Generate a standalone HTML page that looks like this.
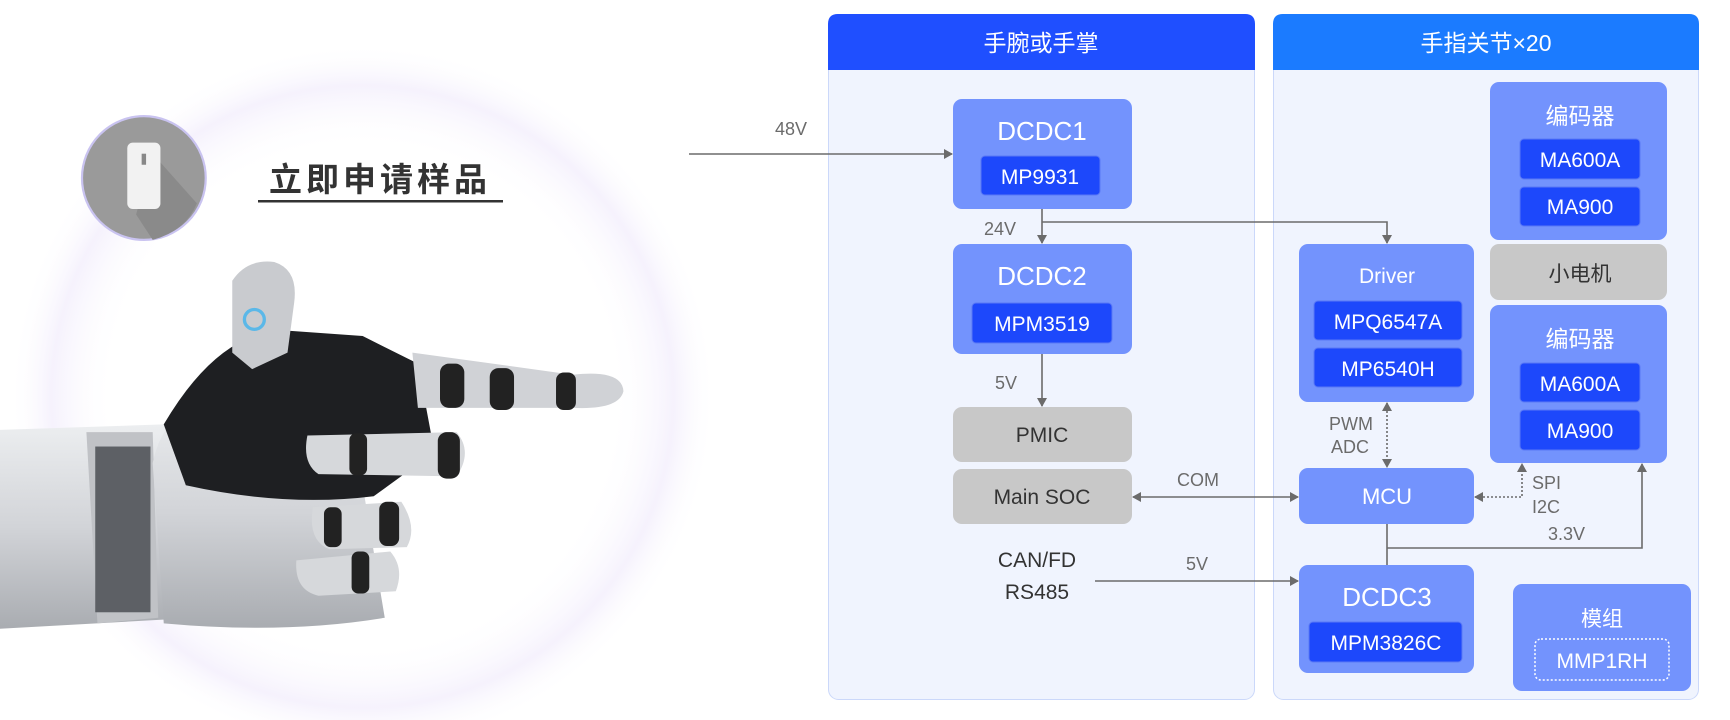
<!DOCTYPE html>
<html><head><meta charset="utf-8"><style>
html,body{margin:0;padding:0;background:#fff;}
svg{display:block;}
text{font-family:"Liberation Sans","Noto Sans CJK SC",sans-serif;}
</style></head><body>
<svg width="1730" height="720" viewBox="0 0 1730 720" xmlns="http://www.w3.org/2000/svg">
<defs>
<radialGradient id="glow" cx="0.5" cy="0.5" r="0.5">
<stop offset="0.7" stop-color="#ffffff" stop-opacity="0"/>
<stop offset="0.88" stop-color="#efe9fb" stop-opacity="0.6"/>
<stop offset="1" stop-color="#ffffff" stop-opacity="0"/>
</radialGradient>
<linearGradient id="silver" x1="0" y1="0" x2="0" y2="1">
<stop offset="0" stop-color="#eceef0"/><stop offset="0.5" stop-color="#d2d4d8"/><stop offset="1" stop-color="#a9acb1"/>
</linearGradient>
<marker id="ar" markerWidth="10" markerHeight="10" refX="8" refY="5" orient="auto" markerUnits="userSpaceOnUse">
<path d="M0,0 L9,5 L0,10 z" fill="#6b6b6b"/></marker>
<marker id="al" markerWidth="10" markerHeight="10" refX="2" refY="5" orient="auto" markerUnits="userSpaceOnUse">
<path d="M10,0 L1,5 L10,10 z" fill="#6b6b6b"/></marker>
</defs>

<g transform="translate(-2,-1) scale(1.105)">
<circle cx="330" cy="360" r="320" fill="url(#glow)"/>
<path d="M0,390 L150,385 L175,400 L180,560 L0,570 z" fill="url(#silver)"/>
<path d="M80,392 L140,392 L145,560 L90,565 z" fill="#c0c2c6"/>
<rect x="88" y="405" width="50" height="150" fill="#5d6065"/>
<path d="M140,420 Q150,370 200,360 L330,440 L350,560 Q260,575 150,565 z" fill="url(#silver)"/>
<path d="M150,385 Q200,300 260,300 L330,305 L380,330 L395,410 L340,450 Q260,460 170,440 z" fill="#1e1f22"/>
<path d="M212,255 Q225,235 250,238 Q272,245 268,275 L262,320 L230,335 L212,320 z" fill="#c9cbcf"/>
<circle cx="232" cy="290" r="9" fill="none" stroke="#5bb8e8" stroke-width="3"/>
<path d="M375,320 L520,340 Q565,335 566,355 Q562,372 520,370 L380,370 z" fill="#d0d2d6"/>
<rect x="400" y="330" width="22" height="40" rx="8" fill="#222"/>
<rect x="445" y="334" width="22" height="38" rx="8" fill="#222"/>
<rect x="505" y="338" width="18" height="34" rx="7" fill="#222"/>
<path d="M280,395 Q275,420 290,430 L415,432 Q430,410 415,392 z" fill="#d6d8db"/>
<rect x="318" y="393" width="16" height="38" rx="6" fill="#222"/>
<rect x="398" y="392" width="20" height="42" rx="8" fill="#222"/>
<path d="M285,460 Q280,490 300,498 L370,496 Q380,478 365,455 z" fill="#d6d8db"/>
<rect x="295" y="460" width="16" height="36" rx="6" fill="#222"/>
<rect x="345" y="455" width="18" height="40" rx="7" fill="#222"/>
<path d="M270,508 Q268,535 290,540 L360,536 Q368,515 355,500 z" fill="#d6d8db"/>
<rect x="320" y="500" width="16" height="38" rx="6" fill="#222"/>
<circle cx="132" cy="162" r="56" fill="#9a9a9a" stroke="#c9c3f0" stroke-width="2"/>
<path d="M140,140 L180,185 Q170,210 140,218 L125,195 z" fill="#8a8a8a"/>
<rect x="117" y="130" width="30" height="60" rx="5" fill="#f2f2f2"/>
<rect x="130" y="140" width="4" height="10" fill="#888"/>
</g>
<text x="380" y="191" font-size="33" font-weight="bold" fill="#333" text-anchor="middle" letter-spacing="4">立即申请样品</text>
<rect x="258" y="200" width="245" height="2.5" fill="#333"/>

<rect x="828.5" y="14.5" width="426" height="685" rx="10" fill="#f0f4fe" stroke="#cbd8fa"/>
<path d="M828,24 Q828,14 838,14 L1245,14 Q1255,14 1255,24 L1255,70 L828,70 z" fill="#1f4fff"/>
<text x="1041" y="51" font-size="23" fill="#fff" text-anchor="middle">手腕或手掌</text>
<rect x="1273.5" y="14.5" width="425" height="685" rx="10" fill="#f0f4fe" stroke="#cbd8fa"/>
<path d="M1273,24 Q1273,14 1283,14 L1689,14 Q1699,14 1699,24 L1699,70 L1273,70 z" fill="#1b7bff"/>
<text x="1486" y="51" font-size="23" fill="#fff" text-anchor="middle">手指关节×20</text>

<g fill="#7393fd">
<rect x="953" y="99" width="179" height="110" rx="9"/>
<rect x="953" y="244" width="179" height="110" rx="9"/>
<rect x="1299" y="244" width="175" height="158" rx="9"/>
<rect x="1299" y="468" width="175" height="56" rx="9"/>
<rect x="1299" y="565" width="175" height="108" rx="9"/>
<rect x="1490" y="82" width="177" height="158" rx="9"/>
<rect x="1490" y="305" width="177" height="158" rx="9"/>
<rect x="1513" y="584" width="178" height="107" rx="9"/>
</g>
<g fill="#c8c8c8">
<rect x="953" y="407" width="179" height="55" rx="9"/>
<rect x="953" y="469" width="179" height="55" rx="9"/>
<rect x="1490" y="244" width="177" height="56" rx="9"/>
</g>
<g fill="#1d48fb" stroke="#5a78f5" stroke-width="1">
<rect x="981" y="156" width="119" height="39" rx="4"/>
<rect x="972" y="303" width="140" height="40" rx="4"/>
<rect x="1314" y="301" width="148" height="39" rx="4"/>
<rect x="1314" y="348" width="148" height="39" rx="4"/>
<rect x="1309" y="622" width="153" height="40" rx="4"/>
<rect x="1520" y="139" width="120" height="40" rx="4"/>
<rect x="1520" y="187" width="120" height="39" rx="4"/>
<rect x="1520" y="363" width="120" height="39" rx="4"/>
<rect x="1520" y="410" width="120" height="40" rx="4"/>
</g>
<rect x="1535" y="639" width="134" height="41" rx="6" fill="none" stroke="#fff" stroke-width="1.5" stroke-dasharray="2,2"/>

<g fill="#fff" text-anchor="middle">
<text x="1042" y="140" font-size="26">DCDC1</text>
<text x="1040" y="184" font-size="21">MP9931</text>
<text x="1042" y="285" font-size="26">DCDC2</text>
<text x="1042" y="331" font-size="21">MPM3519</text>
<text x="1387" y="283" font-size="21">Driver</text>
<text x="1388" y="329" font-size="21">MPQ6547A</text>
<text x="1388" y="376" font-size="21">MP6540H</text>
<text x="1387" y="504" font-size="22">MCU</text>
<text x="1387" y="606" font-size="26">DCDC3</text>
<text x="1386" y="650" font-size="21">MPM3826C</text>
<text x="1580" y="124" font-size="23">编码器</text>
<text x="1580" y="167" font-size="21">MA600A</text>
<text x="1580" y="214" font-size="21">MA900</text>
<text x="1580" y="347" font-size="23">编码器</text>
<text x="1580" y="391" font-size="21">MA600A</text>
<text x="1580" y="438" font-size="21">MA900</text>
<text x="1602" y="626" font-size="21">模组</text>
<text x="1602" y="668" font-size="21">MMP1RH</text>
</g>
<g fill="#333" text-anchor="middle">
<text x="1042" y="442" font-size="21">PMIC</text>
<text x="1042" y="504" font-size="21">Main SOC</text>
<text x="1580" y="281" font-size="21">小电机</text>
<text x="1037" y="567" font-size="21">CAN/FD</text>
<text x="1037" y="599" font-size="21">RS485</text>
</g>
<g fill="#6b6b6b" font-size="18">
<text x="791" y="135" text-anchor="middle">48V</text>
<text x="1000" y="235" text-anchor="middle">24V</text>
<text x="1006" y="389" text-anchor="middle">5V</text>
<text x="1198" y="486" text-anchor="middle">COM</text>
<text x="1197" y="570" text-anchor="middle">5V</text>
<text x="1351" y="430" text-anchor="middle">PWM</text>
<text x="1350" y="453" text-anchor="middle">ADC</text>
<text x="1532" y="489">SPI</text>
<text x="1532" y="513">I2C</text>
<text x="1548" y="540">3.3V</text>
</g>

<g stroke="#6b6b6b" stroke-width="1.6" fill="none">
<line x1="689" y1="154" x2="952" y2="154" marker-end="url(#ar)"/>
<line x1="1042" y1="209" x2="1042" y2="243" marker-end="url(#ar)"/>
<polyline points="1042,222 1387,222 1387,243" marker-end="url(#ar)"/>
<line x1="1042" y1="354" x2="1042" y2="406" marker-end="url(#ar)"/>
<line x1="1133" y1="497" x2="1298" y2="497" marker-start="url(#al)" marker-end="url(#ar)"/>
<line x1="1095" y1="581" x2="1298" y2="581" marker-end="url(#ar)"/>
<polyline points="1387,524 1387,565"/>
<polyline points="1387,548 1642,548 1642,464" marker-end="url(#ar)"/>
<line x1="1387" y1="403" x2="1387" y2="467" stroke-dasharray="2,2" marker-start="url(#al)" marker-end="url(#ar)"/>
<polyline points="1475,497 1522,497 1522,464" stroke-dasharray="2,2" marker-start="url(#al)" marker-end="url(#ar)"/>
</g>
</svg>
</body></html>
